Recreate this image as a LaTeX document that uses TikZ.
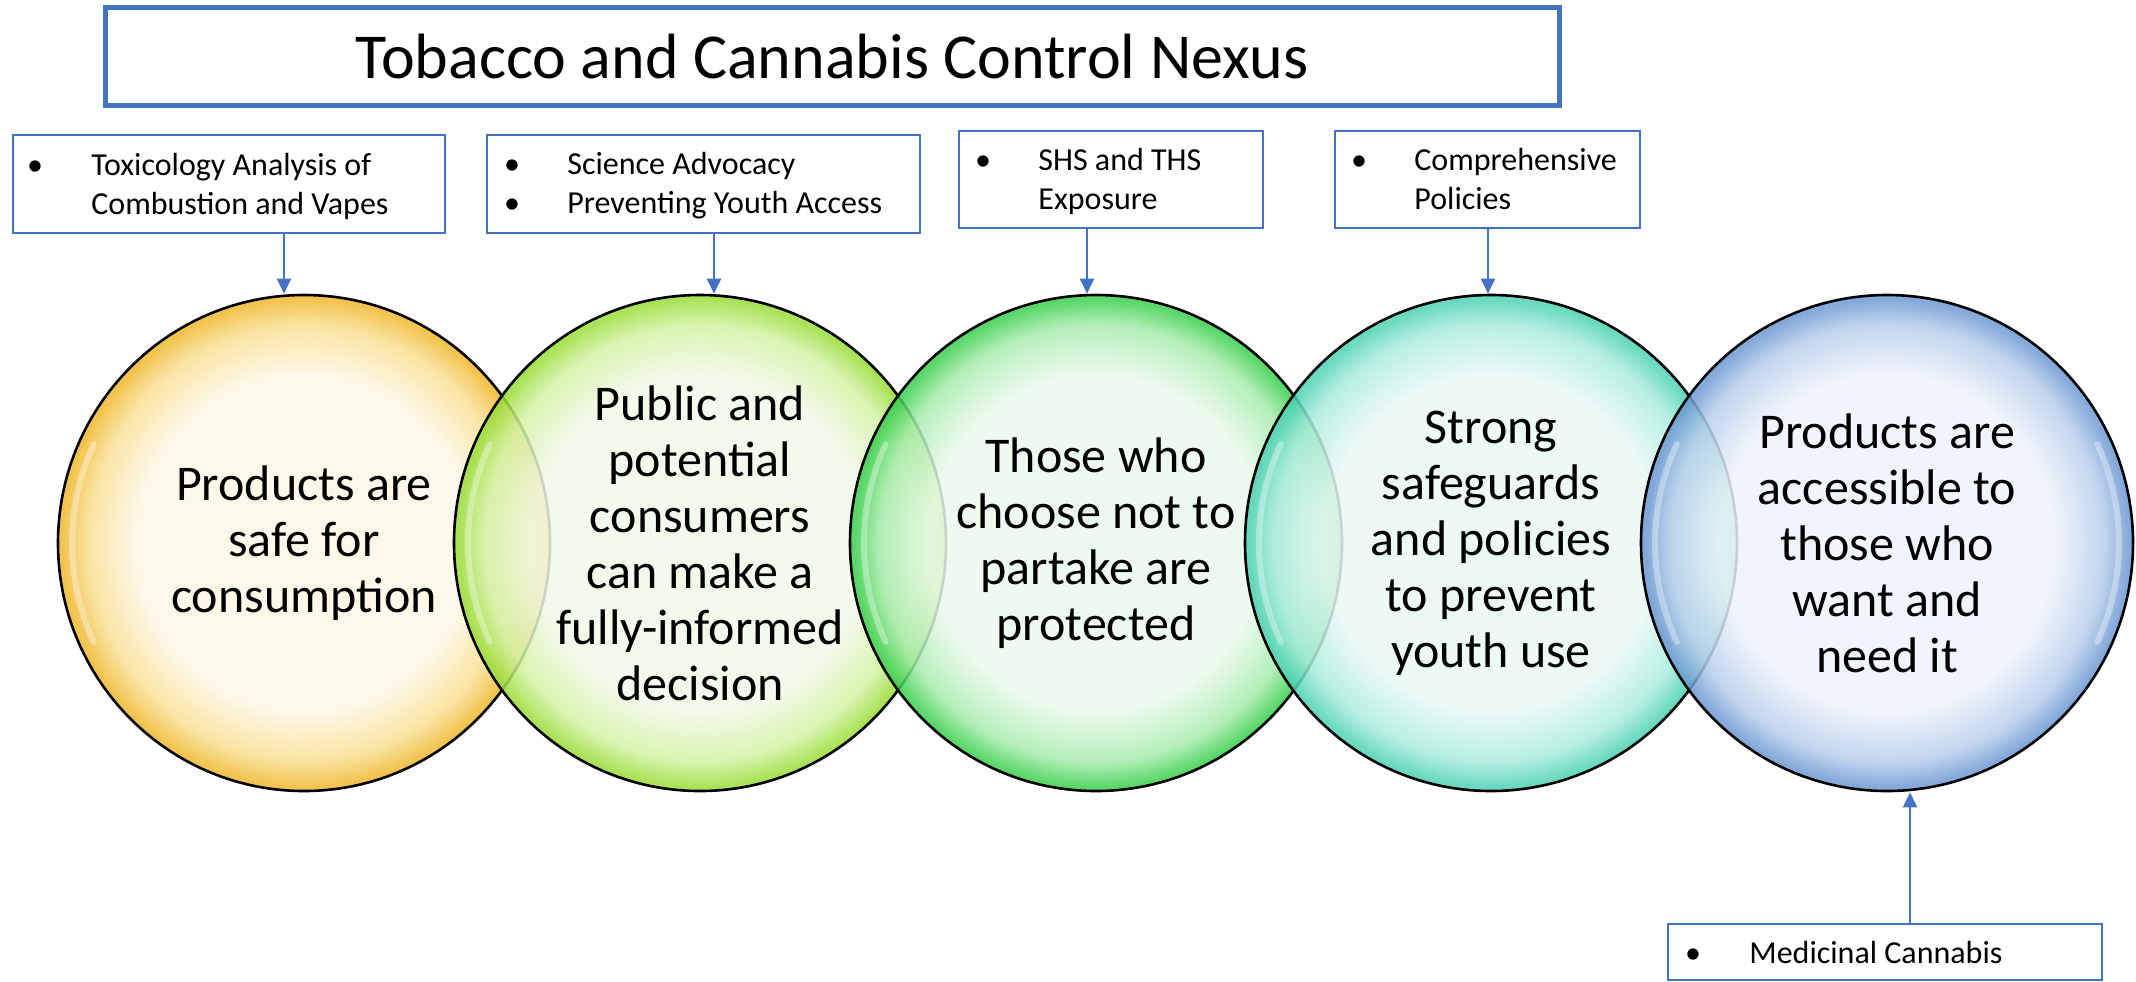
\documentclass[tikz,border=0pt]{standalone}
\usepackage{fontspec}
\setmainfont{Carlito}
\usetikzlibrary{shapes.geometric,fit,arrows.meta}
\definecolor{obl}{HTML}{4472C4}
\definecolor{cAout}{HTML}{F0B930}\definecolor{cAmid}{HTML}{F9DE90}\definecolor{cAin}{HTML}{FDF7E6}
\definecolor{cBout}{HTML}{9ADD3A}\definecolor{cBmid}{HTML}{D2F2A2}\definecolor{cBin}{HTML}{F1F9E8}
\definecolor{cCout}{HTML}{3ED050}\definecolor{cCmid}{HTML}{A8ECAE}\definecolor{cCin}{HTML}{EAF9EC}
\definecolor{cDout}{HTML}{4FD2B4}\definecolor{cDmid}{HTML}{AAECDE}\definecolor{cDin}{HTML}{E9F8F6}
\definecolor{cEout}{HTML}{6F9AD3}\definecolor{cEmid}{HTML}{B8CEEC}\definecolor{cEin}{HTML}{EEF3FA}
\pgfdeclareradialshading{glassA}{\pgfpointorigin}{color(0bp)=(cAin); color(17bp)=(cAin); color(22bp)=(cAmid); color(24.6bp)=(cAout); color(25bp)=(cAout); color(50bp)=(cAout)}
\pgfdeclareradialshading{glassB}{\pgfpointorigin}{color(0bp)=(cBin); color(17bp)=(cBin); color(22bp)=(cBmid); color(24.6bp)=(cBout); color(25bp)=(cBout); color(50bp)=(cBout)}
\pgfdeclareradialshading{glassC}{\pgfpointorigin}{color(0bp)=(cCin); color(17bp)=(cCin); color(22bp)=(cCmid); color(24.6bp)=(cCout); color(25bp)=(cCout); color(50bp)=(cCout)}
\pgfdeclareradialshading{glassD}{\pgfpointorigin}{color(0bp)=(cDin); color(17bp)=(cDin); color(22bp)=(cDmid); color(24.6bp)=(cDout); color(25bp)=(cDout); color(50bp)=(cDout)}
\pgfdeclareradialshading{glassE}{\pgfpointorigin}{color(0bp)=(cEin); color(17bp)=(cEin); color(22bp)=(cEmid); color(24.6bp)=(cEout); color(25bp)=(cEout); color(50bp)=(cEout)}
\tikzset{
  titlebox/.style={rectangle, draw=obl, line width=2.5pt, inner sep=0pt},
  sbox/.style={rectangle, draw=obl, line width=1.2pt, inner sep=0pt},
  circ/.style={ellipse, draw=black, line width=1.3pt, minimum width=246pt, minimum height=248pt, inner sep=0pt, shade, fill opacity=0.85},
  hl/.style={white, line width=3pt, opacity=0.35, line cap=round},
  ctext/.style={align=center, inner sep=0pt, font=\fontsize{25}{28}\selectfont},
  stext/.style={anchor=base west, inner sep=0pt, font=\fontsize{16}{19.5}\selectfont},
  sbul/.style={anchor=base, inner sep=0pt, font=\fontsize{16}{19.5}\selectfont},
  conn/.style={draw=obl, line width=1pt, -{Triangle[width=7pt,length=7.5pt]}},
}
\begin{document}
\begin{tikzpicture}[x=0.5pt, y=-0.5pt]
\useasboundingbox (0,0) rectangle (2136,981);
% title
\node[titlebox, fit={(105.5,7.5)(1559.5,105.5)}] (tb) {};
\node[inner sep=0pt, font=\fontsize{32}{36}\selectfont] (title) at (832,57) {Tobacco and Cannabis Control Nexus};
% circles
\node[circ, shading=glassA] (c1) at (304,543) {};
\begin{scope}[shift={(c1.center)}]\draw[hl] (155:232 and 234) arc[start angle=155, end angle=205, x radius=232, y radius=234];\end{scope}
\node[circ, shading=glassB] (c2) at (700,543) {};
\begin{scope}[shift={(c2.center)}]\draw[hl] (155:232 and 234) arc[start angle=155, end angle=205, x radius=232, y radius=234];\end{scope}
\node[circ, shading=glassC] (c3) at (1096,543) {};
\begin{scope}[shift={(c3.center)}]\draw[hl] (155:232 and 234) arc[start angle=155, end angle=205, x radius=232, y radius=234];\end{scope}
\node[circ, shading=glassD] (c4) at (1491,543) {};
\begin{scope}[shift={(c4.center)}]\draw[hl] (155:232 and 234) arc[start angle=155, end angle=205, x radius=232, y radius=234];\end{scope}
\node[circ, shading=glassE] (c5) at (1887,543) {};
\begin{scope}[shift={(c5.center)}]\draw[hl] (155:232 and 234) arc[start angle=155, end angle=205, x radius=232, y radius=234];\draw[hl] (-25:232 and 234) arc[start angle=-25, end angle=25, x radius=232, y radius=234];\end{scope}
\node[ctext] (t1) at (304,543) {Products are\\safe for\\consumption};
\node[ctext] (t2) at (700,543) {Public and\\potential\\consumers\\can make a\\fully-informed\\decision};
\node[ctext] (t3) at (1096,543) {Those who\\choose not to\\partake are\\protected};
\node[ctext] (t4) at (1491,543) {Strong\\safeguards\\and policies\\to prevent\\youth use};
\node[ctext] (t5) at (1887,543) {Products are\\accessible to\\those who\\want and\\need it};
% small boxes
\node[sbox, fit={(13,135)(445,233)}] (b1) {};
\node[sbul] (b1d) at (35,175) {\textbullet};
\node[stext] (b1a) at (91,175) {Toxicology Analysis of};
\node[stext] (b1b) at (91,214) {Combustion and Vapes};
\node[sbox, fit={(487,135)(920,233)}] (b2) {};
\node[sbul] (b2d) at (512,174) {\textbullet};
\node[stext] (b2a) at (567,174) {Science Advocacy};
\node[sbul] (b2e) at (512,213) {\textbullet};
\node[stext] (b2b) at (567,213) {Preventing Youth Access};
\node[sbox, fit={(959,131)(1263,228)}] (b3) {};
\node[sbul] (b3d) at (983,170) {\textbullet};
\node[stext] (b3a) at (1038,170) {SHS and THS};
\node[stext] (b3b) at (1038,209) {Exposure};
\node[sbox, fit={(1335,131)(1640,228)}] (b4) {};
\node[sbul] (b4d) at (1359,170) {\textbullet};
\node[stext] (b4a) at (1414,170) {Comprehensive};
\node[stext] (b4b) at (1414,209) {Policies};
\node[sbox, fit={(1668,924)(2102,980)}] (b5) {};
\node[sbul] (b5d) at (1693,963) {\textbullet};
\node[stext] (b5a) at (1749,963) {Medicinal Cannabis};
% arrows
\coordinate (x1) at (284,0);
\coordinate (x2) at (714,0);
\coordinate (x3) at (1087,0);
\coordinate (x4) at (1488,0);
\coordinate (x5) at (1910,0);
\draw[conn] (b1.south -| x1) -- (c1.north -| x1);
\draw[conn] (b2.south -| x2) -- (c2.north -| x2);
\draw[conn] (b3.south -| x3) -- (c3.north -| x3);
\draw[conn] (b4.south -| x4) -- (c4.north -| x4);
\draw[conn] (b5.north -| x5) -- (c5.south -| x5);
\end{tikzpicture}
\end{document}
